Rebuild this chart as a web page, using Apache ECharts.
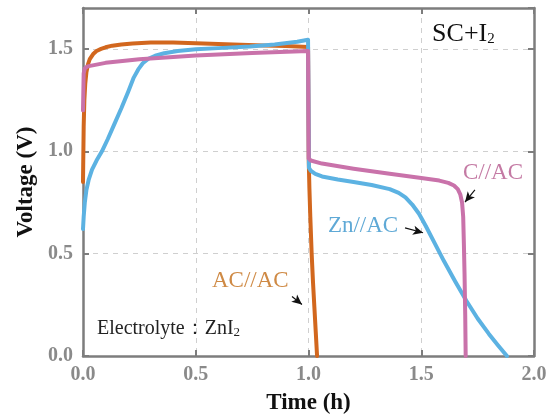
<!DOCTYPE html>
<html>
<head>
<meta charset="utf-8">
<script src="https://cdn.jsdelivr.net/npm/echarts@6/dist/echarts.min.js"></script>
<style>html,body{margin:0;padding:0;background:#fff;}#c{width:560px;height:420px;}</style>
</head>
<body>
<div id="c"></div>
<script>
// ---- data (Time h, Voltage V) ----
const xTicks = [0, 0.5, 1.0, 1.5, 2.0];
const yTicks = [0, 0.5, 1.0, 1.5];
const acac = [[0,0.85],[0.003,1.12],[0.006,1.25],[0.01,1.33],[0.015,1.385],[0.022,1.425],[0.03,1.45],[0.045,1.475],[0.06,1.49],[0.08,1.5],[0.1,1.508],[0.13,1.516],[0.17,1.522],[0.22,1.527],[0.3,1.531],[0.4,1.532],[0.5,1.528],[0.6,1.524],[0.7,1.52],[0.8,1.517],[0.9,1.514],[0.998,1.51],[1.001,0.96],[1.004,0.82],[1.008,0.68],[1.014,0.5],[1.02,0.36],[1.026,0.24],[1.032,0.12],[1.038,0]];
const znac = [[0,0.62],[0.003,0.68],[0.008,0.75],[0.015,0.81],[0.025,0.86],[0.04,0.91],[0.06,0.955],[0.084,1.0],[0.11,1.06],[0.14,1.135],[0.17,1.21],[0.2,1.29],[0.225,1.36],[0.245,1.4],[0.265,1.43],[0.29,1.452],[0.32,1.467],[0.36,1.479],[0.42,1.49],[0.5,1.498],[0.6,1.504],[0.74,1.512],[0.85,1.522],[0.95,1.535],[0.998,1.545],[1.002,0.92],[1.01,0.905],[1.03,0.89],[1.06,0.877],[1.13,0.862],[1.2,0.85],[1.28,0.835],[1.36,0.815],[1.4,0.797],[1.43,0.775],[1.46,0.74],[1.49,0.695],[1.52,0.635],[1.56,0.55],[1.6,0.465],[1.65,0.365],[1.7,0.27],[1.75,0.183],[1.8,0.108],[1.84,0.053],[1.88,0]];
const cac = [[0,1.2],[0.003,1.38],[0.008,1.405],[0.02,1.415],[0.1,1.432],[0.25,1.45],[0.5,1.468],[0.75,1.48],[0.998,1.49],[1.001,0.965],[1.01,0.955],[1.06,0.94],[1.2,0.915],[1.36,0.89],[1.5,0.87],[1.58,0.857],[1.62,0.846],[1.645,0.833],[1.662,0.815],[1.673,0.79],[1.681,0.75],[1.686,0.68],[1.689,0.55],[1.692,0.4],[1.695,0.2],[1.697,0]];
const labels = { sc: 'SC+I', cac: 'C//AC', znac: 'Zn//AC', acac: 'AC//AC', elec: 'Electrolyte：ZnI' };
const arrowAcac = [[0.927,0.291],[0.971,0.252]];
const arrowCac = [[1.738,0.811],[1.694,0.752]];
const arrowZnac = [[1.428,0.626],[1.508,0.602]];

const cOrange = '#d2671e', cBlue = '#5cb2e2', cPink = '#c972aa';
const serif = '"Liberation Serif","DejaVu Serif",serif';
const frame = '#7d7d7d';

const chart = echarts.init(document.getElementById('c'), null, {renderer:'canvas'});
const fmt = v => v.toFixed(1);
function arrowLine(pts){
  return {silent:true, symbol:['none','arrow'], symbolSize:[7,10], label:{show:false},
    lineStyle:{color:'#111', width:1.2, type:'solid'},
    data:[[{coord:pts[0]},{coord:pts[1]}]]};
}
chart.setOption({
  animation:false,
  backgroundColor:'#fff',
  grid:{left:83, right:26, top:8, bottom:63},
  xAxis:[{
    type:'value', min:0, max:2, interval:0.5,
    name:'Time (h)', nameLocation:'middle', nameGap:36,
    nameTextStyle:{fontFamily:serif, fontWeight:'bold', fontSize:23, color:'#111'},
    axisLine:{show:true, onZero:false, lineStyle:{color:frame, width:2.5}},
    axisTick:{show:true, inside:true, length:6, lineStyle:{color:frame, width:2}},
    axisLabel:{margin:9, fontFamily:serif, fontWeight:'bold', fontSize:20, color:'#8a8a8a', formatter:fmt},
    splitLine:{show:true, lineStyle:{color:'#cfcfcf', width:1, type:[5,5]}}
  },{
    type:'value', min:0, max:2, interval:0.5, position:'top',
    axisLine:{show:true, onZero:false, lineStyle:{color:frame, width:2.5}},
    axisTick:{show:true, inside:true, length:6, lineStyle:{color:frame, width:2}},
    axisLabel:{show:false}, splitLine:{show:false}
  }],
  yAxis:[{
    type:'value', min:0, max:1.7, interval:0.5,
    name:'Voltage (V)', nameLocation:'middle', nameGap:42,
    nameTextStyle:{fontFamily:serif, fontWeight:'bold', fontSize:23, color:'#111'},
    axisLine:{show:true, onZero:false, lineStyle:{color:frame, width:2.5}},
    axisTick:{show:true, inside:true, length:6, lineStyle:{color:frame, width:2}},
    axisLabel:{margin:10, fontFamily:serif, fontWeight:'bold', fontSize:20, color:'#8a8a8a', formatter:fmt, showMaxLabel:false},
    splitLine:{show:true, lineStyle:{color:'#cfcfcf', width:1, type:[5,5]}}
  },{
    type:'value', min:0, max:1.7, interval:0.5, position:'right',
    axisLine:{show:true, onZero:false, lineStyle:{color:frame, width:2.5}},
    axisTick:{show:true, inside:true, length:6, lineStyle:{color:frame, width:2}},
    axisLabel:{show:false}, splitLine:{show:false}
  }],
  series:[
    {type:'line', name:'AC//AC', data:acac, showSymbol:false, smooth:false, lineStyle:{color:cOrange, width:4, join:'round', cap:'round'}, z:2, markLine:arrowLine(arrowAcac)},
    {type:'line', name:'Zn//AC', data:znac, showSymbol:false, smooth:false, lineStyle:{color:cBlue, width:4, join:'round', cap:'round'}, z:3, markLine:arrowLine(arrowZnac)},
    {type:'line', name:'C//AC', data:cac, showSymbol:false, smooth:false, lineStyle:{color:cPink, width:4, join:'round', cap:'round'}, z:4, markLine:arrowLine(arrowCac)}
  ]
});

function pt(x,y){ return chart.convertToPixel({xAxisIndex:0, yAxisIndex:0},[x,y]); }
function txt(pos, rich, text, fill, size){
  const p = pt(pos[0], pos[1]);
  return {type:'text', x:p[0], y:p[1], z:100, style:{text:text, fill:fill, font: size+'px '+serif, verticalAlign:'middle', align:'left', rich:rich}};
}
const subRich = (big, small, col) => ({b:{fontSize:big, fontFamily:serif, fill:col, color:col}, s:{fontSize:small, fontFamily:serif, fill:col, color:col, verticalAlign:'bottom', padding:[0,0,0,0]}});
chart.setOption({graphic:[
  txt([1.548,1.573], subRich(26,15,'#111'), '{b|'+labels.sc+'}{s|2}', '#111', 26),
  txt([1.685,0.893], null, labels.cac, '#c47aa4', 23),
  txt([1.086,0.636], null, labels.znac, '#5fa9d6', 23),
  txt([0.572,0.369], null, labels.acac, '#cf8a45', 23),
  txt([0.062,0.131], subRich(20,13,'#222'), '{b|'+labels.elec+'}{s|2}', '#222', 20)
]});
</script>
</body>
</html>
